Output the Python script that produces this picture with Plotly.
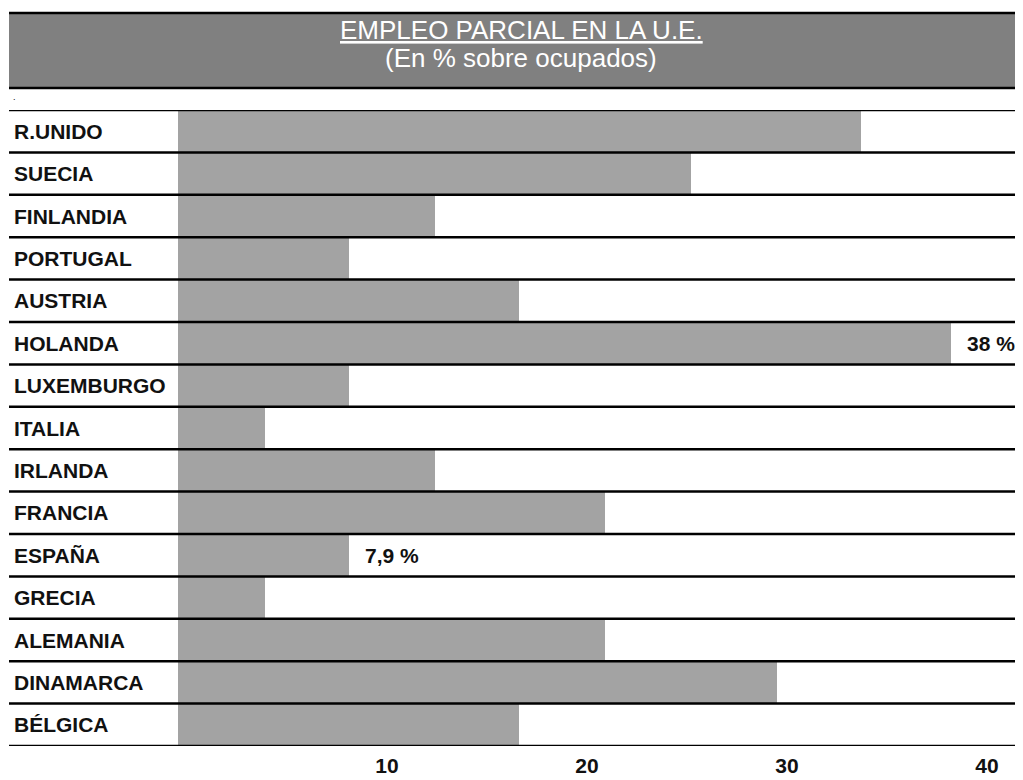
import plotly.graph_objects as go

# ---- data ----
categories = ["R.UNIDO", "SUECIA", "FINLANDIA", "PORTUGAL", "AUSTRIA", "HOLANDA",
              "LUXEMBURGO", "ITALIA", "IRLANDA", "FRANCIA", "ESPAÑA", "GRECIA",
              "ALEMANIA", "DINAMARCA", "BÉLGICA"]
values = [33.5, 25.0, 12.2, 7.9, 16.4, 38.0, 7.9, 3.7, 12.2, 20.7, 7.9, 3.7, 20.7, 29.3, 16.4]
value_labels = {"HOLANDA": "38 %", "ESPAÑA": "7,9 %"}
tick_values = [10, 20, 30, 40]
tick_labels = ["10", "20", "30", "40"]
title_line1 = "EMPLEO PARCIAL EN LA U.E."
title_line2 = "(En % sobre ocupados)"

AXIS_MIN, AXIS_MAX = -0.65, 41.6

# the page body adds an 8px margin, so the figure is 8px smaller and all
# layout positions below are given in page pixels minus that offset
OFF = 8
W, H = 1023 - OFF, 780 - OFF
L, R, T = 178 - OFF, 0, 110 - OFF
B = H - (746 - OFF)
plot_w = W - L - R
plot_h = H - T - B


def px_x(px):
    return (px - OFF - L) / plot_w


def px_y(py):
    return (H - B - (py - OFF)) / plot_h


FONT = "Liberation Sans, Arial, Helvetica, sans-serif"
BAR_COLOR = "#a3a3a3"

fig = go.Figure()
fig.add_trace(go.Bar(
    y=categories,
    x=[v - AXIS_MIN for v in values],
    base=AXIS_MIN,
    orientation="h",
    width=1.0,
    marker=dict(color=BAR_COLOR, line=dict(width=0)),
    customdata=values,
    hovertemplate="%{y}: %{customdata}%<extra></extra>",
))

shapes = []
# title box
shapes.append(dict(type="rect", xref="paper", yref="paper",
                   x0=px_x(9), x1=1.0, y0=px_y(88), y1=px_y(13),
                   fillcolor="#808080", line=dict(width=0), layer="above"))
for py in (13, 88):
    shapes.append(dict(type="line", xref="paper", yref="paper",
                       x0=px_x(9), x1=1.0, y0=px_y(py), y1=px_y(py),
                       line=dict(color="black", width=2.5), layer="above"))
# row separators
for i in range(len(categories) + 1):
    shapes.append(dict(type="line", xref="paper", yref="y",
                       x0=px_x(9), x1=1.0, y0=i - 0.5, y1=i - 0.5,
                       line=dict(color="black", width=2.5), layer="above"))

annotations = []
annotations.append(dict(xref="paper", yref="paper", x=px_x(521), y=px_y(30),
                        text="<u>" + title_line1 + "</u>", showarrow=False,
                        xanchor="center", yanchor="middle",
                        font=dict(family=FONT, size=26, color="white")))
annotations.append(dict(xref="paper", yref="paper", x=px_x(521), y=px_y(58),
                        text=title_line2, showarrow=False,
                        xanchor="center", yanchor="middle",
                        font=dict(family=FONT, size=26, color="white")))
annotations.append(dict(xref="paper", yref="paper", x=px_x(11), y=px_y(97),
                        text=".", showarrow=False, xanchor="left", yanchor="middle",
                        font=dict(family=FONT, size=9, color="black")))
for cat in categories:
    annotations.append(dict(xref="paper", yref="y", x=px_x(12), y=cat,
                            text=cat, showarrow=False, xanchor="left", yanchor="middle",
                            font=dict(family=FONT, size=21, color="#111111", weight="bold")))
for cat, v in zip(categories, values):
    if cat in value_labels:
        annotations.append(dict(xref="x", yref="y", x=v, y=cat, xshift=14,
                                text=value_labels[cat], showarrow=False,
                                xanchor="left", yanchor="middle",
                                font=dict(family=FONT, size=21, color="#111111", weight="bold")))

fig.update_layout(
    width=W, height=H,
    margin=dict(l=L, r=R, t=T, b=B, pad=0),
    paper_bgcolor="white", plot_bgcolor="white",
    showlegend=False, bargap=0,
    shapes=shapes, annotations=annotations,
    font=dict(family=FONT),
)
fig.update_xaxes(range=[AXIS_MIN, AXIS_MAX], tickvals=tick_values, ticktext=tick_labels,
                 showgrid=False, zeroline=False, showline=False, ticks="",
                 tickfont=dict(family=FONT, size=21, color="#111111", weight="bold"),
                 ticklabelshift=-4, ticklabelstandoff=5, fixedrange=True)
fig.update_yaxes(categoryorder="array", categoryarray=categories,
                 range=[len(categories) - 0.5, -0.5],
                 showticklabels=False, showgrid=False, zeroline=False, showline=False,
                 ticks="", fixedrange=True)

fig.write_html("out.html")
